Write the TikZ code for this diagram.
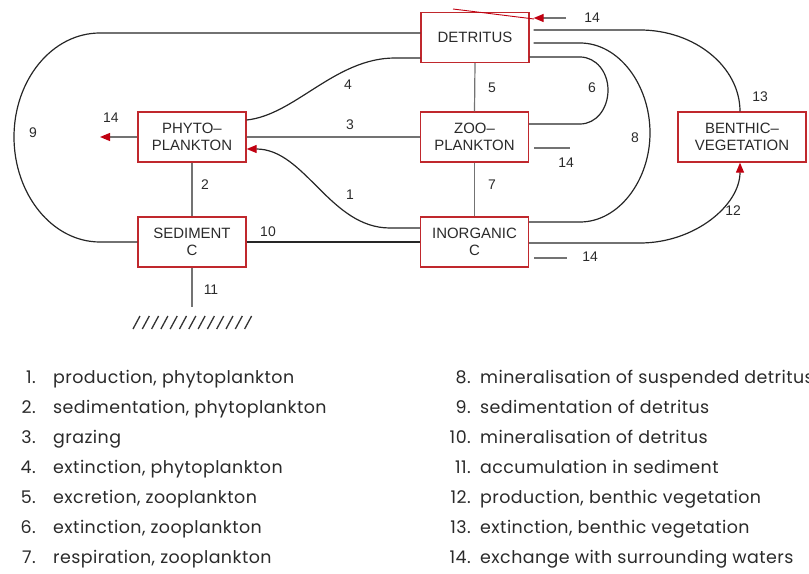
\documentclass[tikz,border=0pt]{standalone}
\usepackage{fontspec}
\setmainfont{Liberation Sans}
\newfontfamily\legfont[LetterSpace=2.5]{Poppins}
\usetikzlibrary{arrows.meta,calc}
\definecolor{boxred}{HTML}{C0282D}
\definecolor{arrred}{HTML}{C00010}
\definecolor{txt}{HTML}{2A2A2A}
\tikzset{
  comp/.style={draw=boxred, line width=1.3bp, minimum width=108bp, minimum height=50bp,
    inner sep=0pt, align=center, font=\fontsize{15}{17}\selectfont, text=txt},
  flow/.style={draw=black!85, line width=1.2bp},
  gflow/.style={draw=black!55, line width=1.2bp},
  redtip/.style={-{Triangle[length=10bp,width=8bp,color=arrred,fill=arrred]}},
  lab/.style={font=\fontsize{14}{16}\selectfont, text=txt, inner sep=0pt},
  legnum/.style={anchor=base east, font=\legfont\fontsize{17.5}{20}\selectfont, text=txt, inner sep=0pt},
  legtxt/.style={anchor=base west, font=\legfont\fontsize{17.5}{20}\selectfont, text=txt, inner sep=0pt},
}
\begin{document}
\begin{tikzpicture}[x=1bp,y=-1bp]
\useasboundingbox (0,0) rectangle (809,574);
% compartments
\node[comp] (det) at (475,37.5) {DETRITUS};
\node[comp] (phy) at (192,137) {PHYTO--\\PLANKTON};
\node[comp] (zoo) at (474.5,137) {ZOO--\\PLANKTON};
\node[comp] (sed) at (192,242) {SEDIMENT\\C};
\node[comp] (ino) at (474.5,242) {INORGANIC\\C};
\node[comp, minimum width=128bp] (ben) at (742,137) {BENTHIC--\\VEGETATION};
% free ends
\coordinate (phyout) at (100,137);
\coordinate (zooout) at (570,148);
\coordinate (inoout) at (567,258);
\coordinate (detout) at (566,18);
\coordinate (sedbot) at (192,307);
% 9
\draw[flow] ($(det.west)+(0,-4.5)$) -- (100,33) .. controls (52,33) and (14,80) .. (14,137)
  .. controls (14,194) and (52,242) .. (100,242) -- (sed.west);
\node[lab] at (33,133) {9};
% 4
\draw[flow] ($(phy.east)+(0,-17)$) .. controls (295,115) and (335,58) .. (395,58) -- ($(det.west)+(0,20.5)$);
\node[lab] at (348,85) {4};
% 3
\draw[gflow] (phy.east) -- (zoo.west);
\node[lab] at (350,125) {3};
% 1
\draw[flow, redtip] ($(ino.west)+(0,-14)$) -- (390,228) .. controls (330,228) and (305,149) .. ($(phy.east)+(0,12)$);
\node[lab] at (350,195) {1};
% 2
\draw[gflow] (phy.south) -- (sed.north);
\node[lab] at (205,185) {2};
% 10
\draw[flow] (sed.east) -- (ino.west);
\node[lab] at (268,232) {10};
% 11
\draw[gflow] (sed.south) -- (sedbot);
\node[lab] at (211,290) {11};
\foreach \i in {0,...,12} {
  \draw[black!80, line width=1.3bp] (133+9.3*\i,329) -- (140+9.3*\i,316);
}
% 14 phyto
\draw[gflow, redtip] (phy.west) -- (phyout);
\node[lab] at (111,118) {14};
% 5, 7
\draw[gflow] (det.south) -- (zoo.north);
\node[lab] at (492,88) {5};
\draw[gflow] (zoo.south) -- (ino.north);
\node[lab] at (492,185) {7};
% 6
\draw[flow] ($(det.east)+(0,19.5)$) -- (580,57) .. controls (596,57) and (608,72) .. (608,90)
  .. controls (608,109) and (596,124) .. (580,124) -- ($(zoo.east)+(0,-13)$);
\node[lab] at (592,88) {6};
% 8
\draw[flow] ($(det.east)+(4,5.5)$) -- (580,43) .. controls (619,43) and (650,85) .. (650,133)
  .. controls (650,180) and (619,222) .. (580,222) -- ($(ino.east)+(0,-20)$);
\node[lab] at (635,138) {8};
% 13
\draw[flow] ($(det.east)+(4,-7.5)$) -- (640,30) .. controls (695,30) and (740,67) .. (ben.north -| 740,0);
\node[lab] at (760,97) {13};
% 12
\draw[flow, redtip] ($(ino.east)+(0,1)$) -- (640,243) .. controls (695,243) and (740,205) .. (ben.south -| 740,0);
\node[lab] at (733,211) {12};
% 14 zoo, inorganic, detritus
\draw[gflow] ($(zoo.east)+(5,11)$) -- (zooout);
\node[lab] at (566,163) {14};
\draw[gflow] ($(ino.east)+(5,16)$) -- (inoout);
\node[lab] at (590,257) {14};
\draw[gflow, redtip] (detout) -- ($(det.east)+(4,-19.5)$);
\node[lab] at (592,18) {14};
\draw[arrred, line width=0.9bp] (453,9) -- (534,19);
% legend
\foreach \n/\t [count=\k from 0] in {1./{production, phytoplankton},2./{sedimentation, phytoplankton},3./grazing,4./{extinction, phytoplankton},5./{excretion, zooplankton},6./{extinction, zooplankton},7./{respiration, zooplankton}} {
  \node[legnum] at (36,383+30*\k) {\n};
  \node[legtxt] at (53,383+30*\k) {\t};
}
\foreach \n/\t [count=\k from 0] in {8./mineralisation of suspended detritus,9./sedimentation of detritus,10./mineralisation of detritus,11./accumulation in sediment,12./{production, benthic vegetation},13./{extinction, benthic vegetation},14./exchange with surrounding waters} {
  \node[legnum] at (471,383+30*\k) {\n};
  \node[legtxt] at (480,383+30*\k) {\t};
}
\end{tikzpicture}
\end{document}
